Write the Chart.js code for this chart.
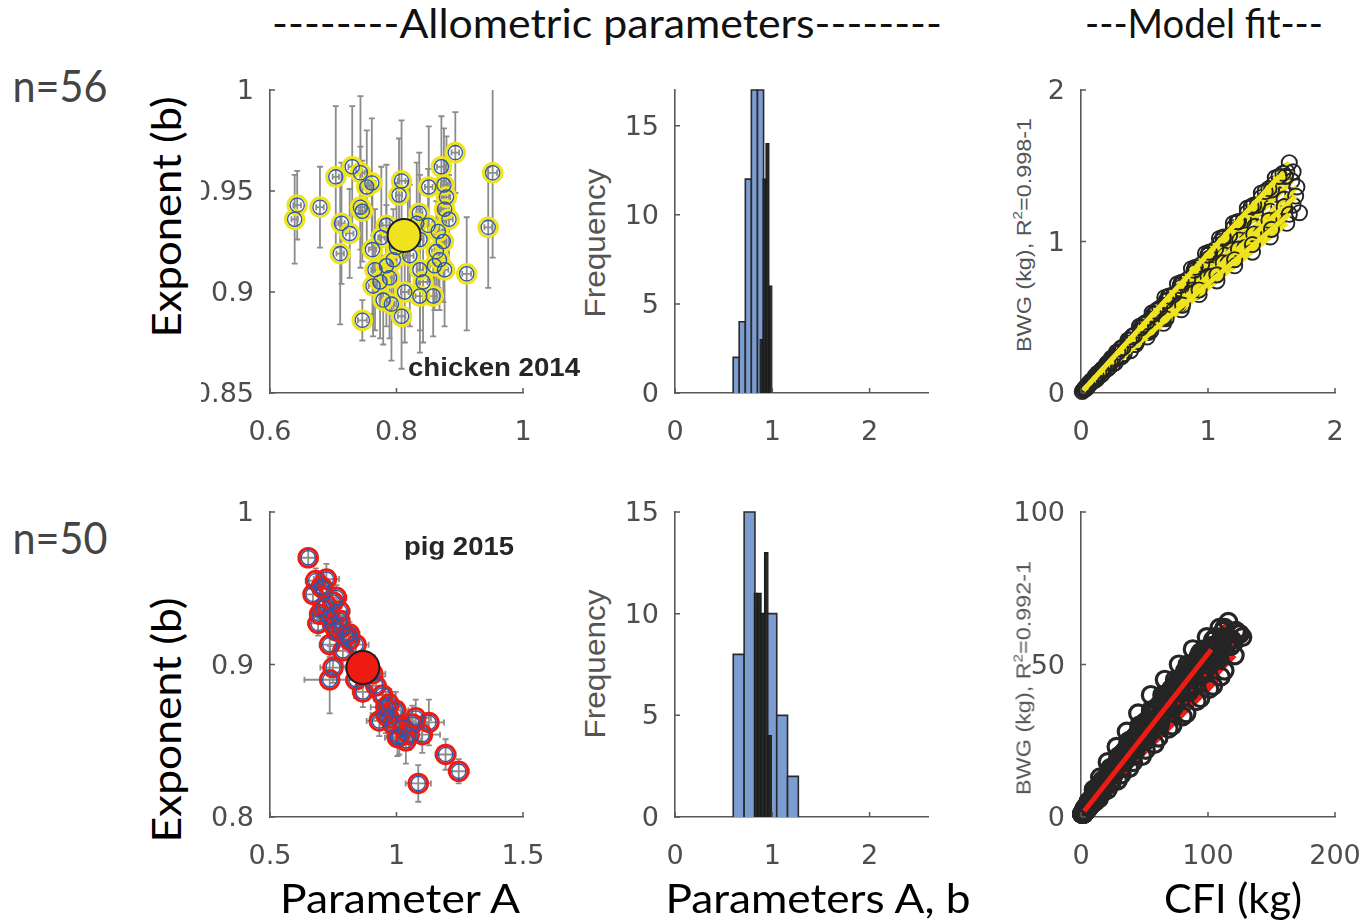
<!DOCTYPE html>
<html>
<head>
<meta charset="utf-8">
<title>Allometric parameters</title>
<script src="https://cdn.jsdelivr.net/npm/chart.js@4.4.1/dist/chart.umd.min.js"></script>
<style>
  html, body { margin: 0; padding: 0; background: #fff; }
  body { position: relative; width: 1365px; height: 922px; overflow: hidden; }
  canvas { position: absolute; }
  .lbl { position: absolute; white-space: nowrap; }
  .lbl sup { font-size: 0.65em; vertical-align: 0.6em; line-height: 0; }
</style>
</head>
<body>
<script>
// allometric parameters per animal (BWG = A * CFI^b)
var chickenA = [0.643,0.639,0.679,0.704,0.730,0.743,0.761,0.753,0.743,0.746,
  0.713,0.726,0.711,0.746,0.808,0.804,0.871,0.893,0.851,0.875,
  0.879,0.876,0.883,0.836,0.952,0.945,0.911,0.784,0.776,0.762,
  0.766,0.763,0.779,0.792,0.808,0.813,0.837,0.858,0.837,0.868,
  0.860,0.876,0.874,0.837,0.850,0.789,0.795,0.784,0.821,0.863,
  0.832,0.774,0.800,0.842,0.866,0.818];
var chickenB = [0.943,0.936,0.942,0.957,0.962,0.959,0.954,0.952,0.942,0.940,
  0.934,0.929,0.919,0.886,0.955,0.948,0.962,0.969,0.952,0.953,
  0.947,0.941,0.936,0.939,0.959,0.932,0.909,0.933,0.927,0.921,
  0.911,0.903,0.896,0.894,0.888,0.900,0.898,0.898,0.911,0.916,
  0.913,0.911,0.925,0.926,0.933,0.907,0.916,0.913,0.918,0.920,
  0.934,0.905,0.922,0.905,0.930,0.930];
var chickenErrA = [0.006,0.005,0.006,0.005,0.006,0.007,0.006,0.005,0.007,0.006,
  0.005,0.006,0.006,0.007,0.006,0.005,0.007,0.006,0.006,0.005,
  0.006,0.007,0.006,0.005,0.007,0.006,0.007,0.006,0.005,0.006,
  0.006,0.007,0.006,0.005,0.006,0.006,0.007,0.006,0.005,0.006,
  0.007,0.006,0.005,0.006,0.006,0.007,0.005,0.006,0.006,0.007,
  0.006,0.005,0.006,0.007,0.006,0.005];
var chickenErrB = [0.017,0.022,0.020,0.035,0.030,0.038,0.032,0.028,0.030,0.025,
  0.030,0.022,0.035,0.010,0.030,0.028,0.025,0.020,0.030,0.028,
  0.030,0.025,0.022,0.030,0.042,0.030,0.028,0.030,0.035,0.032,
  0.030,0.025,0.022,0.028,0.026,0.025,0.028,0.020,0.030,0.025,
  0.022,0.028,0.030,0.032,0.028,0.030,0.025,0.030,0.035,0.025,
  0.030,0.028,0.032,0.030,0.028,0.025];
var chickenMean = [0.812, 0.928];

var pigA = [0.651,0.681,0.723,0.703,0.749,0.709,0.690,0.736,0.775,0.762,
  0.801,0.840,0.736,0.749,0.736,0.840,0.906,0.867,0.945,0.958,
  0.932,0.971,0.997,1.076,1.128,1.004,1.037,1.102,1.050,1.194,
  1.246,1.086,0.670,0.762,0.781,0.984,1.024,0.919,0.814,0.709,
  0.723,0.749,0.788,0.958,1.011,1.063,0.971,0.696,0.775,0.814];
var pigB = [0.970,0.955,0.956,0.951,0.941,0.937,0.927,0.931,0.929,0.922,
  0.919,0.913,0.913,0.898,0.890,0.890,0.894,0.882,0.880,0.872,
  0.863,0.865,0.870,0.865,0.862,0.852,0.850,0.854,0.854,0.841,
  0.830,0.822,0.946,0.944,0.924,0.861,0.859,0.886,0.916,0.950,
  0.939,0.926,0.909,0.867,0.853,0.861,0.874,0.933,0.935,0.920];
var pigErrA = [0.03,0.04,0.05,0.04,0.04,0.03,0.04,0.05,0.04,0.03,
  0.04,0.05,0.04,0.05,0.10,0.04,0.05,0.04,0.05,0.06,
  0.05,0.06,0.05,0.06,0.06,0.05,0.06,0.07,0.05,0.04,
  0.04,0.05,0.03,0.04,0.04,0.05,0.05,0.04,0.04,0.03,
  0.04,0.04,0.05,0.06,0.05,0.06,0.05,0.03,0.04,0.04];
var pigErrB = [0.006,0.008,0.010,0.008,0.008,0.006,0.008,0.010,0.008,0.006,
  0.008,0.010,0.008,0.010,0.022,0.012,0.012,0.010,0.012,0.010,
  0.010,0.012,0.012,0.012,0.015,0.012,0.015,0.012,0.010,0.010,
  0.008,0.012,0.006,0.008,0.008,0.010,0.010,0.010,0.008,0.006,
  0.008,0.008,0.010,0.012,0.012,0.012,0.010,0.006,0.008,0.008];
var pigMean = [0.867, 0.898];

// histograms: bin centres, counts and bin widths (A in blue, b in black)
var chickenAHistX = [0.629, 0.691, 0.754, 0.816, 0.879, 0.941];
var chickenAHistN = [2, 4, 12, 17, 17, 4];
var chickenABinWidth = 0.0625;
var chickenBHistX = [0.89, 0.92, 0.95, 0.98];
var chickenBHistN = [3, 12, 14, 6];
var chickenBBinWidth = 0.03;
var pigAHistX = [0.654, 0.766, 0.879, 0.990, 1.101, 1.212];
var pigAHistN = [8, 15, 10, 10, 5, 2];
var pigABinWidth = 0.111;
var pigBHistX = [0.8325, 0.8675, 0.9025, 0.9375, 0.9725];
var pigBHistN = [11, 11, 10, 13, 4];
var pigBBinWidth = 0.035;

// cumulative feed intake vs body weight gain, one row per animal
var chickenFitCFI = [
  [0.02,0.06,0.11,0.17,0.24,0.32,0.41,0.50,0.60,0.70,0.80,0.90,1.00,1.10,1.20,1.31,1.42,1.52,1.62],
  [0.03,0.07,0.13,0.20,0.28,0.37,0.46,0.56,0.66,0.76,0.87,0.98,1.09,1.20,1.31,1.42,1.53,1.64],
  [0.04,0.09,0.15,0.22,0.30,0.39,0.48,0.58,0.68,0.79,0.90,1.01,1.12,1.23,1.34,1.45,1.56,1.67],
  [0.03,0.08,0.14,0.21,0.29,0.38,0.47,0.57,0.67,0.78,0.89,1.00,1.11,1.22,1.33,1.44,1.55,1.66],
  [0.05,0.11,0.18,0.26,0.35,0.45,0.55,0.66,0.77,0.89,1.01,1.13,1.25,1.37,1.49,1.60,1.70],
  [0.04,0.12,0.21,0.31,0.42,0.53,0.65,0.77,0.90,1.03,1.16,1.29,1.42,1.55,1.67],
  [0.06,0.16,0.27,0.39,0.52,0.65,0.79,0.93,1.07,1.21,1.35,1.49,1.62,1.72],
  [0.04,0.10,0.17,0.25,0.34,0.44,0.54,0.65,0.76,0.88,1.00,1.12,1.24,1.36,1.48,1.60,1.69],
  [0.05,0.13,0.22,0.32,0.43,0.55,0.67,0.80,0.93,1.07,1.21,1.35,1.50,1.64],
  [0.03,0.07,0.12,0.18,0.25,0.33,0.42,0.52,0.62,0.73,0.84,0.95,1.06,1.17,1.28,1.39,1.50,1.61],
  [0.01,0.04,0.08,0.14,0.21,0.29,0.38,0.47,0.57,0.67,0.78,0.89,1.00,1.12,1.24,1.36,1.48,1.59],
  [0.02,0.05,0.10,0.16,0.23,0.31,0.40,0.49,0.59,0.69,0.79,0.90,1.01,1.12,1.23,1.34,1.45,1.56]
];
var chickenFitBWG = [
  [0.02,0.06,0.11,0.16,0.23,0.30,0.38,0.46,0.55,0.64,0.73,0.82,0.91,1.00,1.09,1.19,1.29,1.38,1.46],
  [0.03,0.07,0.13,0.19,0.27,0.35,0.44,0.53,0.63,0.72,0.82,0.92,1.02,1.12,1.22,1.32,1.42,1.52],
  [0.04,0.08,0.14,0.20,0.27,0.35,0.43,0.52,0.61,0.70,0.80,0.89,0.99,1.08,1.18,1.28,1.37,1.46],
  [0.03,0.07,0.13,0.19,0.26,0.33,0.41,0.49,0.58,0.67,0.76,0.85,0.94,1.03,1.13,1.22,1.31,1.40],
  [0.04,0.09,0.15,0.22,0.29,0.37,0.45,0.54,0.63,0.72,0.82,0.91,1.01,1.10,1.20,1.28,1.36],
  [0.03,0.09,0.16,0.24,0.32,0.40,0.49,0.58,0.67,0.77,0.86,0.96,1.05,1.15,1.24],
  [0.05,0.12,0.20,0.28,0.37,0.46,0.55,0.65,0.74,0.84,0.93,1.03,1.12,1.19],
  [0.03,0.08,0.13,0.19,0.26,0.34,0.42,0.50,0.59,0.68,0.77,0.86,0.95,1.05,1.14,1.23,1.30],
  [0.04,0.10,0.17,0.24,0.32,0.41,0.49,0.58,0.68,0.78,0.88,0.98,1.08,1.18],
  [0.03,0.06,0.11,0.16,0.23,0.30,0.38,0.47,0.56,0.65,0.75,0.85,0.95,1.04,1.14,1.24,1.34,1.43],
  [0.01,0.04,0.08,0.13,0.20,0.27,0.35,0.43,0.52,0.61,0.71,0.81,0.91,1.02,1.13,1.24,1.35,1.45],
  [0.02,0.05,0.09,0.15,0.21,0.29,0.37,0.45,0.54,0.64,0.73,0.83,0.93,1.03,1.13,1.23,1.33,1.43]
];
var chickenLineCFI = [[0.02,1.62],[0.03,1.64],[0.04,1.67],[0.03,1.66],[0.05,1.70],[0.04,1.67],
  [0.06,1.62],[0.04,1.69],[0.05,1.64],[0.03,1.61],[0.01,1.59],[0.02,1.56]];
var chickenLineBWG = [[0.02,1.46],[0.03,1.52],[0.04,1.46],[0.03,1.40],[0.04,1.36],[0.03,1.24],
  [0.05,1.12],[0.03,1.30],[0.04,1.18],[0.03,1.43],[0.01,1.45],[0.02,1.43]];

var pigFitCFI = [
  [1,3,6,10,15,21,28,36,45,55,66,77,88,99,109,116],
  [2,5,9,14,20,27,35,44,54,65,76,88,100,112,122],
  [1,4,8,13,19,26,34,43,53,64,75,87,99,110,120,127],
  [2,6,11,17,24,32,41,51,62,73,85,97,109,118],
  [1,3,7,12,18,25,33,42,52,63,74,85,96,106],
  [2,5,10,16,23,31,40,50,60,71,82,93,104,113],
  [1,4,8,13,19,26,34,43,53,63,74,85,95,104],
  [3,7,12,18,25,33,42,52,62,73,84,95,105,115,123],
  [1,3,6,11,17,24,32,41,50,60,70,80,90,100,108],
  [2,6,11,17,24,31,39,48,57,67,77,87,97,106],
  [1,5,10,16,22,29,37,46,56,66,77,88,98,108,117],
  [1,3,7,11,16,22,29,37,46,55,65,75,85,95,104,112],
  [2,5,9,14,20,26,33,41,50,59,69,79,89,99,109,119,125],
  [1,4,8,12,17,23,30,38,46,55,64,74,84,94],
  [2,6,10,15,21,28,36,44,53,62,72,82,92,102,111],
  [2,6,11,17,24,32,41,51,61,72,83,94,104,113,121],
  [1,4,8,14,21,29,38,48,58,69,80,91,101,110],
  [2,4,8,12,17,23,30,38,47,56,66,76,86,96]
];
var pigFitBWG = [
  [1,3,5,9,13,18,23,28,34,40,45,50,55,59,62,64],
  [1,3,6,9,13,17,22,27,32,38,43,49,54,58,61],
  [1,2,5,8,11,15,19,24,29,34,39,45,50,54,57,59],
  [1,3,6,9,12,16,20,25,30,36,41,47,52,56],
  [1,2,5,8,12,16,21,26,31,37,42,47,52,56],
  [2,4,7,11,15,20,25,31,36,42,48,53,58,62],
  [1,2,4,7,10,14,18,22,27,32,37,42,47,51],
  [2,4,7,10,14,18,23,28,33,38,43,48,53,57,60],
  [1,2,4,7,11,15,20,25,30,35,40,45,50,54,57],
  [2,5,8,12,16,20,25,30,35,40,45,50,55,59],
  [1,3,6,9,13,17,21,26,31,36,41,46,51,55,58],
  [1,2,5,8,11,15,19,24,29,34,39,44,49,54,58,61],
  [1,3,5,8,11,14,18,22,26,31,36,41,46,51,55,58,60],
  [1,3,6,9,12,16,20,25,30,35,40,45,50,54],
  [1,4,7,10,13,17,22,27,32,37,42,47,52,56,59],
  [1,3,5,8,11,14,18,22,26,30,34,39,43,48,53],
  [1,2,4,6,9,12,16,20,24,29,33,38,42,46],
  [1,3,5,8,11,15,19,24,29,34,39,44,49,53]
];
var pigLineCFI = [[1,116],[2,122],[1,127],[2,118],[1,106],[2,113],[1,104],[3,123],[1,108],
  [2,106],[1,117],[1,112],[2,125],[1,94],[2,111],[2,121],[1,110],[2.5,102.6]];
var pigLineBWG = [[1,64],[1,61],[1,59],[1,56],[1,56],[2,62],[1,51],[2,60],[1,57],
  [2,59],[1,58],[1,61],[1,60],[1,54],[1,59],[1,53],[1,46],[1.9,54.9]];

// tick values
var chickenXTicks = [0.6, 0.8, 1];
var chickenYTicks = [0.85, 0.9, 0.95, 1];
var pigXTicks = [0.5, 1, 1.5];
var pigYTicks = [0.8, 0.9, 1];
var histXTicks = [0, 1, 2];
var histYTicks = [0, 5, 10, 15];
var chickenFitTicks = [0, 1, 2];
var pigFitXTicks = [0, 100, 200];
var pigFitYTicks = [0, 50, 100];

var axisColor = '#595959';
var tickColor = '#4d4d4d';
var errColor = '#8c8c8c';
var yellow = '#efe31e';
var ringBlue = '#2b57aa';
var red = '#ee1b12';
var histBlue = '#7c9dd1';
var histDark = '#282828';
var circleDark = '#252525';

Chart.defaults.font.family = "'DejaVu Sans', sans-serif";
Chart.defaults.font.size = 27;
Chart.defaults.color = tickColor;
Chart.defaults.animation = false;
Chart.defaults.events = [];
Chart.defaults.responsive = false;
Chart.defaults.plugins.legend.display = false;
Chart.defaults.plugins.tooltip.enabled = false;

function pts(xs, ys) {
  return xs.map(function (x, i) { return { x: x, y: ys[i] }; });
}

function axis(min, max, ticks, pad, shift) {
  return {
    type: 'linear', min: min, max: max, offset: false,
    grid: { display: false, drawTicks: false },
    border: { color: axisColor, width: 1.6 },
    ticks: {
      padding: pad, labelOffset: shift || 0, color: tickColor, autoSkip: false, maxRotation: 0,
      callback: function (v) { return String(v); }
    },
    afterBuildTicks: function (s) {
      s.ticks = ticks.map(function (v) { return { value: v }; });
    }
  };
}

// short tick marks pointing into the plot
var inwardTicks = {
  id: 'inwardTicks',
  afterDraw: function (chart) {
    var ctx = chart.ctx, a = chart.chartArea;
    var xs = chart.scales.x, ys = chart.scales.y;
    ctx.save();
    ctx.strokeStyle = axisColor;
    ctx.lineWidth = 1.5;
    ctx.beginPath();
    xs.ticks.forEach(function (t) {
      var px = xs.getPixelForValue(t.value);
      ctx.moveTo(px, a.bottom); ctx.lineTo(px, a.bottom - 5);
    });
    ys.ticks.forEach(function (t) {
      var py = ys.getPixelForValue(t.value);
      ctx.moveTo(a.left, py); ctx.lineTo(a.left + 5, py);
    });
    ctx.stroke();
    ctx.restore();
  }
};

// grey error bars (both directions) under the markers
var errorBars = {
  id: 'errorBars',
  beforeDatasetsDraw: function (chart) {
    var ctx = chart.ctx, a = chart.chartArea;
    var xs = chart.scales.x, ys = chart.scales.y;
    var cap = 3;
    ctx.save();
    ctx.beginPath();
    ctx.rect(a.left, a.top, a.right - a.left, a.bottom - a.top);
    ctx.clip();
    ctx.strokeStyle = errColor;
    ctx.lineWidth = 1.8;
    chart.data.datasets.forEach(function (ds) {
      if (!ds.errX) return;
      ds.data.forEach(function (p, i) {
        var cx = xs.getPixelForValue(p.x), cy = ys.getPixelForValue(p.y);
        var x0 = xs.getPixelForValue(p.x - ds.errX[i]);
        var x1 = xs.getPixelForValue(p.x + ds.errX[i]);
        var y0 = ys.getPixelForValue(p.y - ds.errY[i]);
        var y1 = ys.getPixelForValue(p.y + ds.errY[i]);
        ctx.beginPath();
        ctx.moveTo(x0, cy); ctx.lineTo(x1, cy);
        ctx.moveTo(x0, cy - cap); ctx.lineTo(x0, cy + cap);
        ctx.moveTo(x1, cy - cap); ctx.lineTo(x1, cy + cap);
        ctx.moveTo(cx, y0); ctx.lineTo(cx, y1);
        ctx.moveTo(cx - cap, y0); ctx.lineTo(cx + cap, y0);
        ctx.moveTo(cx - cap, y1); ctx.lineTo(cx + cap, y1);
        ctx.stroke();
      });
    });
    ctx.restore();
  }
};

function noPad(s) {
  s.paddingLeft = 0; s.paddingRight = 0; s.paddingTop = 0; s.paddingBottom = 0;
}

// canvas frame and plot area in page pixels
function makeChart(frame, plot, config) {
  var cv = document.createElement('canvas');
  cv.width = frame.r - frame.l;
  cv.height = frame.b - frame.t;
  cv.style.left = frame.l + 'px';
  cv.style.top = frame.t + 'px';
  document.body.appendChild(cv);
  var o = config.options;
  o.devicePixelRatio = 1;
  o.layout = { autoPadding: false, padding: { top: plot.t - frame.t, right: frame.r - plot.r, left: 0, bottom: 0 } };
  o.scales.x.afterFit = function (s) { s.height = frame.b - plot.b; noPad(s); };
  o.scales.y.afterFit = function (s) { s.width = plot.l - frame.l; noPad(s); };
  config.plugins = (config.plugins || []).concat([inwardTicks]);
  return new Chart(cv, config);
}

function rings(data, radius, width, color, order) {
  return {
    data: data, showLine: false, clip: false, order: order,
    pointRadius: radius, pointBorderWidth: width,
    pointBorderColor: color, pointBackgroundColor: 'rgba(0,0,0,0)'
  };
}

function fitLine(data, color, order) {
  return {
    data: data, showLine: true, clip: false, order: order,
    pointRadius: 0, borderColor: color, borderWidth: 5
  };
}

function scatterPanel(frame, plot, xs, ys, errX, errY, mean, edge, xMin, xMax, xT, yMin, yMax, yT) {
  var outer = rings(pts(xs, ys), 9.3, 3, edge, -1);
  outer.errX = errX;
  outer.errY = errY;
  makeChart(frame, plot, {
    type: 'scatter',
    data: {
      datasets: [
        {
          data: [{ x: mean[0], y: mean[1] }], order: -3, clip: false,
          pointRadius: 16.5, pointBorderWidth: 2,
          pointBorderColor: '#1e1e1e', pointBackgroundColor: edge
        },
        rings(pts(xs, ys), 7.1, 1.3, ringBlue, -2),
        outer
      ]
    },
    options: {
      scales: { x: axis(xMin, xMax, xT, 24), y: axis(yMin, yMax, yT, 16, 2) }
    },
    plugins: [errorBars]
  });
}

// one filled outline per bin, traced from its centre, width and count
function binOutlines(centres, counts, width, fill, edge, lw) {
  return centres.map(function (c, i) {
    var x0 = c - width / 2, x1 = c + width / 2;
    return {
      data: [{ x: x0, y: 0 }, { x: x0, y: counts[i] }, { x: x1, y: counts[i] }, { x: x1, y: 0 }],
      showLine: true, pointRadius: 0, fill: 'origin', clip: false,
      backgroundColor: fill, borderColor: edge, borderWidth: lw
    };
  });
}

function histPanel(frame, plot, aX, aN, aW, bX, bN, bW, yMax) {
  var sets = binOutlines(aX, aN, aW, histBlue, '#2a2a2a', 1.6)
    .concat(binOutlines(bX, bN, bW, histDark, '#1a1a1a', 1.1));
  sets.forEach(function (d, i) { d.order = -i; });
  makeChart(frame, plot, {
    type: 'scatter',
    data: { datasets: sets },
    options: {
      scales: { x: axis(0, 2.6, histXTicks, 24), y: axis(0, yMax, histYTicks, 16, 2) }
    }
  });
}

// linesUnder: every fit line except the last one sits below all the circles
function fitPanel(frame, plot, cfi, bwg, lineCfi, lineBwg, lineColor, r, w, xMax, xT, yMax, yT, linesUnder) {
  var sets = [];
  cfi.forEach(function (c, k) {
    var ring = rings(pts(c, bwg[k]), r, w, circleDark, 0);
    var line = fitLine(pts(lineCfi[k], lineBwg[k]), lineColor, 0);
    if (linesUnder && k < cfi.length - 1) {
      sets.unshift(line);
      sets.push(ring);
    } else {
      sets.push(ring);
      sets.push(line);
    }
  });
  // later entries are drawn over earlier ones
  sets.forEach(function (d, i) { d.order = -i; });
  makeChart(frame, plot, {
    type: 'scatter',
    data: { datasets: sets },
    options: {
      scales: { x: axis(0, xMax, xT, 24), y: axis(0, yMax, yT, 16, 2) }
    }
  });
}

scatterPanel({ l: 201, t: 70, r: 548, b: 460 }, { l: 270, t: 90, r: 523, b: 393 },
  chickenA, chickenB, chickenErrA, chickenErrB, chickenMean, yellow,
  0.6, 1, chickenXTicks, 0.85, 1, chickenYTicks);
scatterPanel({ l: 200, t: 492, r: 560, b: 880 }, { l: 270, t: 512, r: 523, b: 817 },
  pigA, pigB, pigErrA, pigErrB, pigMean, red,
  0.5, 1.5, pigXTicks, 0.8, 1, pigYTicks);

histPanel({ l: 615, t: 70, r: 955, b: 460 }, { l: 675, t: 90, r: 928, b: 393 },
  chickenAHistX, chickenAHistN, chickenABinWidth, chickenBHistX, chickenBHistN, chickenBBinWidth, 17);
histPanel({ l: 615, t: 492, r: 955, b: 880 }, { l: 675, t: 512, r: 928, b: 817 },
  pigAHistX, pigAHistN, pigABinWidth, pigBHistX, pigBHistN, pigBBinWidth, 15);

fitPanel({ l: 1035, t: 70, r: 1362, b: 460 }, { l: 1081, t: 90, r: 1335, b: 393 },
  chickenFitCFI, chickenFitBWG, chickenLineCFI, chickenLineBWG, yellow, 7.6, 1.9,
  2, chickenFitTicks, 2, chickenFitTicks, false);
fitPanel({ l: 1000, t: 492, r: 1365, b: 880 }, { l: 1081, t: 512, r: 1335, b: 817 },
  pigFitCFI, pigFitBWG, pigLineCFI, pigLineBWG, red, 8.5, 3.2,
  200, pigFitXTicks, 100, pigFitYTicks, true);

// text around the panels, each squeezed to its measured width
var labels = [
  { html: '--------Allometric parameters--------', x: 607, y: 23, w: 670, font: '40px Lato', color: '#111' },
  { html: '---Model fit---', x: 1204, y: 23, w: 238, font: '40px Lato', color: '#111' },
  { html: 'n=56', x: 60, y: 85, w: 95, font: '44px Lato', color: '#444' },
  { html: 'n=50', x: 60, y: 537, w: 95, font: '44px Lato', color: '#444' },
  { html: 'Exponent (b)', x: 166, y: 217, w: 241, rot: true, font: '40px Lato', color: '#000' },
  { html: 'Exponent (b)', x: 166, y: 720, w: 245, rot: true, font: '40px Lato', color: '#000' },
  { html: 'Parameter A', x: 400, y: 898, w: 240, font: '40px Lato', color: '#000' },
  { html: 'Parameters A, b', x: 818, y: 898, w: 305, font: '40px Lato', color: '#000' },
  { html: 'CFI (kg)', x: 1233, y: 898, w: 138, font: '40px Lato', color: '#000' },
  { html: 'Frequency', x: 595, y: 243, w: 149, rot: true, font: "30px 'Liberation Sans'", color: '#555' },
  { html: 'Frequency', x: 595, y: 664, w: 149, rot: true, font: "30px 'Liberation Sans'", color: '#555' },
  { html: 'BWG (kg), R<sup>2</sup>=0.998-1', x: 1023, y: 235, w: 234, rot: true, font: "21px 'Liberation Sans'", color: '#555' },
  { html: 'BWG (kg), R<sup>2</sup>=0.992-1', x: 1023, y: 678, w: 234, rot: true, font: "21px 'Liberation Sans'", color: '#555' },
  { html: 'chicken 2014', x: 494, y: 367, w: 172, font: "bold 25px 'Liberation Sans'", color: '#262626' },
  { html: 'pig 2015', x: 459, y: 546, w: 110, font: "bold 25px 'Liberation Sans'", color: '#262626' }
];

labels.forEach(function (t) {
  var el = document.createElement('div');
  el.className = 'lbl';
  el.innerHTML = t.html;
  el.style.font = t.font;
  el.style.lineHeight = '1';
  el.style.color = t.color;
  document.body.appendChild(el);
  var k = t.w / el.getBoundingClientRect().width;
  el.style.left = t.x + 'px';
  el.style.top = t.y + 'px';
  el.style.transform = 'translate(-50%, -50%)' + (t.rot ? ' rotate(-90deg)' : '') + ' scaleX(' + k.toFixed(3) + ')';
});
</script>
</body>
</html>
